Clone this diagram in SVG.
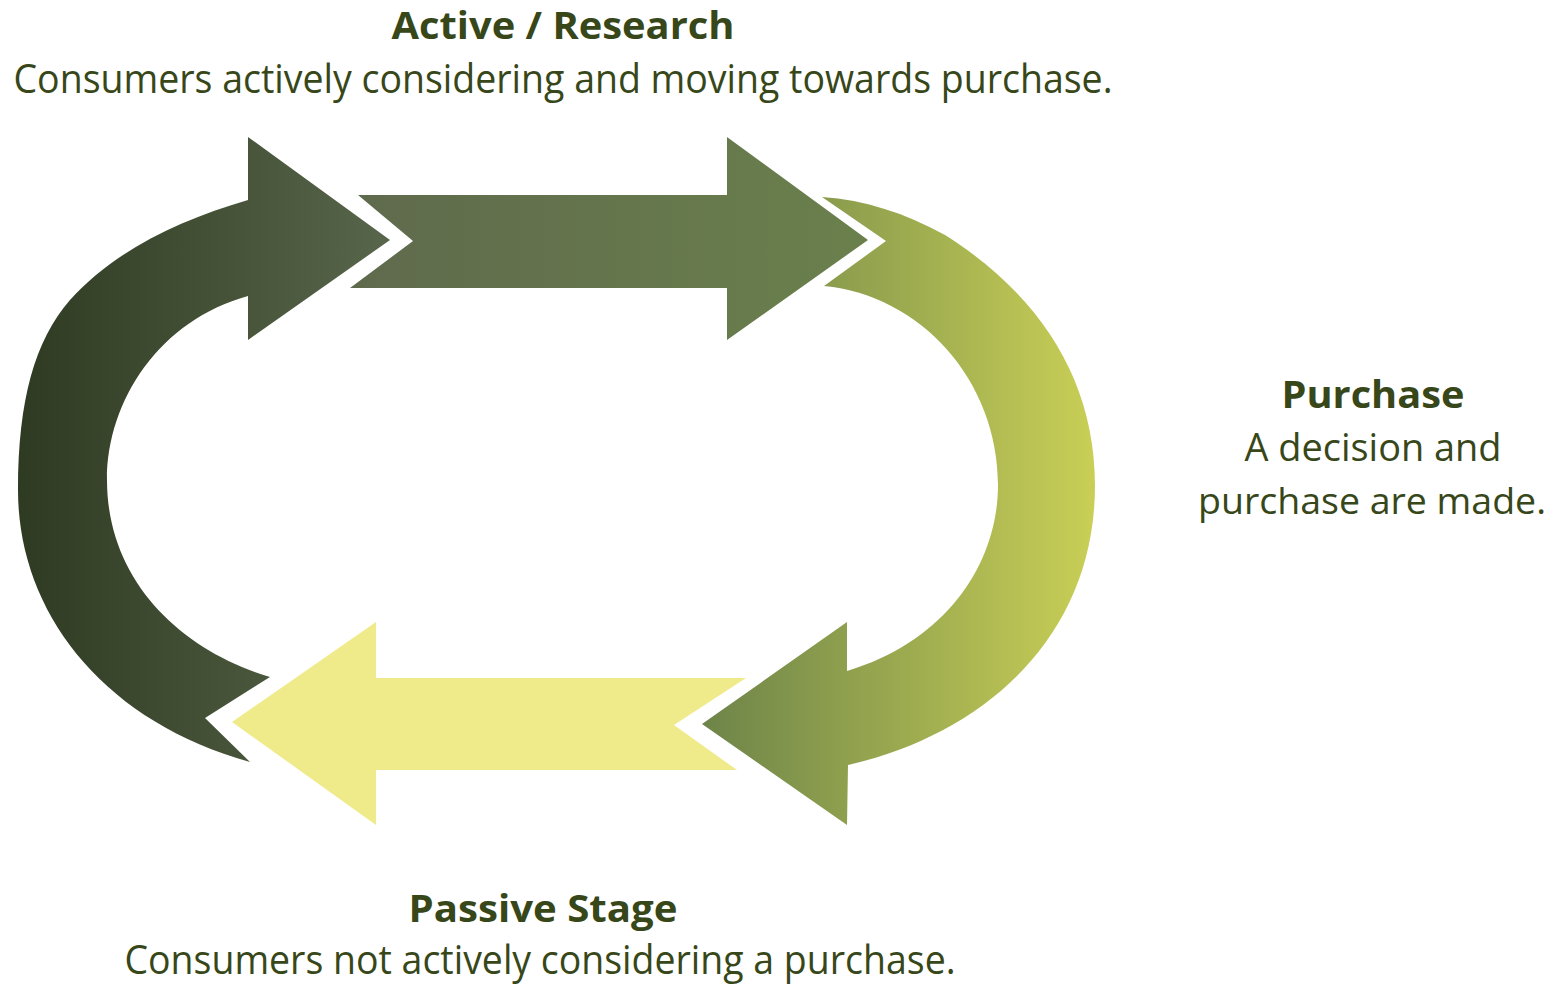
<svg xmlns="http://www.w3.org/2000/svg" width="1565" height="985" viewBox="0 0 1565 985">
  <defs>
    <linearGradient id="gLeft" gradientUnits="userSpaceOnUse" x1="18" y1="0" x2="392" y2="0">
      <stop offset="0" stop-color="#2e3a21"/>
      <stop offset="1" stop-color="#58664b"/>
    </linearGradient>
    <linearGradient id="gTop" gradientUnits="userSpaceOnUse" x1="350" y1="0" x2="868" y2="0">
      <stop offset="0" stop-color="#5f6a4d"/>
      <stop offset="1" stop-color="#6a804c"/>
    </linearGradient>
    <linearGradient id="gRight" gradientUnits="userSpaceOnUse" x1="702" y1="0" x2="1095" y2="0">
      <stop offset="0" stop-color="#6d8449"/>
      <stop offset="1" stop-color="#c9cf56"/>
    </linearGradient>
  </defs>
  <style>
    .title { font-family: "Open Sans", "Liberation Sans", sans-serif; font-weight: 700; fill: #374719; text-anchor: middle; }
    .body { font-family: "Open Sans", "Liberation Sans", sans-serif; font-weight: 400; fill: #374719; text-anchor: middle; }
  </style>

  <g id="connectors">
    <!-- curved return arrow on the left, bottom to top -->
    <path id="arrow-left" fill="url(#gLeft)" d="M248,137 L390,240 L248,340 L248,296 C160,320 107,400 107,480 C107,580 180,650 270,677 L205,718 L250,762 C100,720 18,610 18,490 C18,400 35,340 70,300 C115,250 180,220 248,200 Z"/>
    <!-- straight arrow across the top -->
    <polygon id="arrow-top" fill="url(#gTop)" points="358,195 727,195 727,137 868,240 727,340 727,288 350,288 413,241"/>
    <!-- curved arrow on the right, top to bottom -->
    <path id="arrow-right" fill="url(#gRight)" d="M822,197 C865,200 905,213 945,235 C1040,295 1095,380 1095,485 C1095,640 980,735 848,765 L847,825 L702,724 L847,622 L847,671 C950,640 998,560 998,485 C998,380 920,295 824,286 L886,241 Z"/>
    <!-- straight arrow across the bottom -->
    <polygon id="arrow-bottom" fill="#f0eb8a" points="232,722 376,622 376,678 746,678 674,725 737,770 376,770 376,825"/>
  </g>

  <g id="node-active">
    <text class="title" x="563" y="39" font-size="37" textLength="343" lengthAdjust="spacingAndGlyphs">Active / Research</text>
    <text class="body" x="563" y="93" font-size="40" textLength="1099" lengthAdjust="spacingAndGlyphs">Consumers actively considering and moving towards purchase.</text>
  </g>

  <g id="node-purchase">
    <text class="title" x="1373" y="408" font-size="37" textLength="183" lengthAdjust="spacingAndGlyphs">Purchase</text>
    <text class="body" x="1373" y="461" font-size="39" textLength="257" lengthAdjust="spacingAndGlyphs">A decision and</text>
    <text class="body" x="1372" y="514" font-size="37" textLength="348" lengthAdjust="spacingAndGlyphs">purchase are made.</text>
  </g>

  <g id="node-passive">
    <text class="title" x="543" y="922" font-size="37" textLength="269" lengthAdjust="spacingAndGlyphs">Passive Stage</text>
    <text class="body" x="540" y="974" font-size="40" textLength="831" lengthAdjust="spacingAndGlyphs">Consumers not actively considering a purchase.</text>
  </g>
</svg>
